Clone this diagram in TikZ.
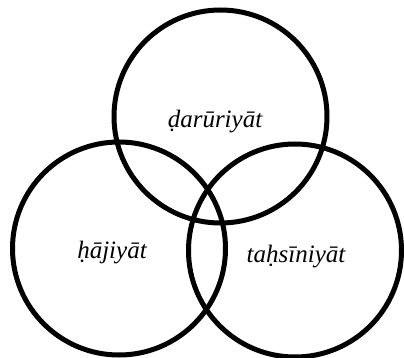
\documentclass[tikz,border=0pt]{standalone}
\usepackage{fontspec}
\setmainfont{Liberation Serif}
\begin{document}
\begin{tikzpicture}[
    x=1pt, y=1pt,
    ring/.style={circle, draw, line width=5pt, minimum size=213pt, inner sep=0pt},
    term/.style={anchor=base, inner sep=0pt, font=\itshape\fontsize{25}{29}\selectfont}
]
    \useasboundingbox (0,0) rectangle (404,-358);

    % Circles
    \node (top) [ring] at (220.5,-116.5) {};
    \node (left) [ring] at (119,-248.5) {};
    \node (right) [ring] at (295,-250.5) {};

    % Labels
    \node (daruriyat) [term] at (215,-128) {ḍarūriyāt};
    \node (hajiyat) [term] at (112,-258) {ḥājiyāt};
    \node (tahsiniyat) [term] at (296,-262) {taḥsīniyāt};
\end{tikzpicture}
\end{document}
